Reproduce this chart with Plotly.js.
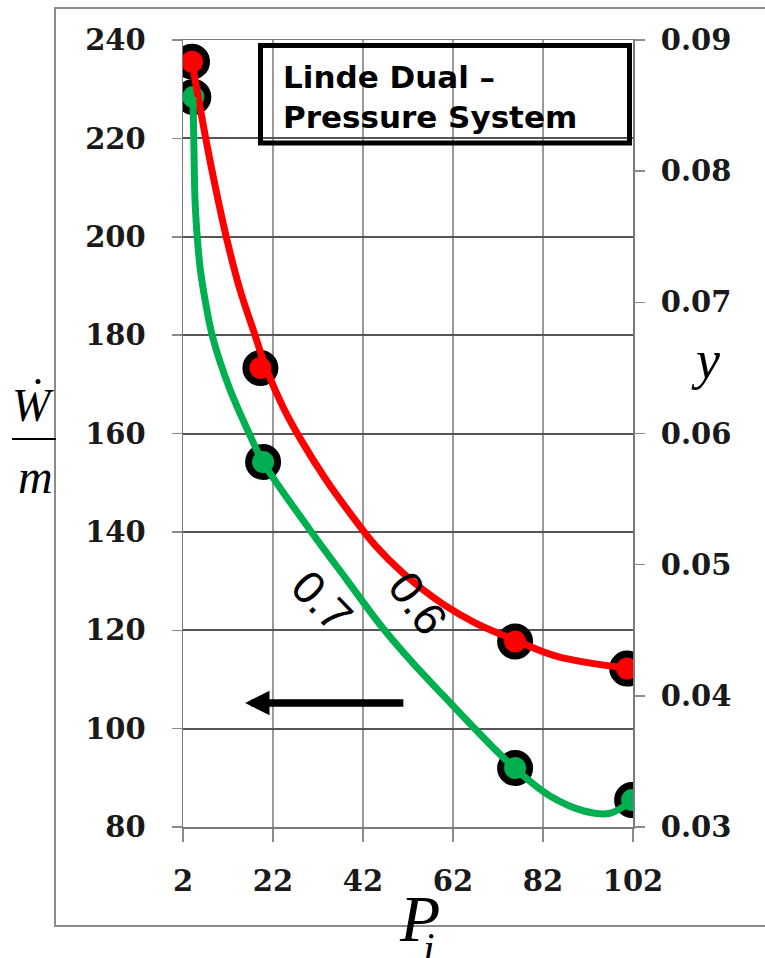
<!DOCTYPE html>
<html>
<head>
<meta charset="utf-8">
<script src="https://cdn.plot.ly/plotly-3.0.1.min.js"></script>
<style>html,body{margin:0;padding:0;background:#fff;}#chart{width:765px;height:958px;}</style>
</head>
<body>
<div id="chart"></div>
<script>
// ---- data ----
const xTickVals = [2, 22, 42, 62, 82, 102];
const yTickVals = [80, 100, 120, 140, 160, 180, 200, 220, 240];
const y2TickVals = [0.03, 0.04, 0.05, 0.06, 0.07, 0.08, 0.09];
const y2TickText = ['0.03', '0.04', '0.05', '0.06', '0.07', '0.08', '0.09'];

// measured points (markers)
const redPtsX = [4.0, 19.2, 75.8, 100.7];
const redPtsY = [235.6, 173.3, 117.7, 112.2];
const greenPtsX = [4.3, 19.8, 75.8, 101.8];
const greenPtsY = [228.4, 154.2, 92.0, 85.5];

// fitted curves
const redCurveX = [4.00, 7.11, 9.33, 11.78, 14.67, 18.00, 20.44, 24.22, 28.22, 33.56, 39.11, 44.67, 50.89, 59.78, 67.11, 75.78, 85.11, 100.67];
const redCurveY = [235.5, 219.7, 209.5, 199.3, 189.2, 180.0, 173.3, 165.4, 158.7, 150.9, 143.8, 137.3, 131.6, 125.3, 121.4, 118.0, 114.7, 112.3];
const greenCurveX = [4.22, 4.44, 4.67, 5.22, 5.84, 6.69, 8.56, 12.33, 16.56, 19.78, 30.22, 38.44, 46.44, 53.11, 59.78, 67.56, 75.78, 83.56, 91.33, 96.89, 101.78];
const greenCurveY = [228.4, 217.6, 207.4, 199.3, 193.4, 188.3, 179.7, 169.2, 160.3, 154.2, 140.4, 130.2, 120.4, 113.3, 106.8, 99.3, 91.9, 86.3, 83.2, 82.8, 85.4];

// curve labels
const curveLabels = ['0.7', '0.6'];
const curveLabelX = [32.9, 54.2];
const curveLabelY = [125.9, 125.5];

// arrow (head and tail)
const arrowHead = [15.8, 105.2];
const arrowTail = [51.3, 105.2];

const titleText = 'Linde Dual –<br>Pressure System';

// ---- layout helpers (pixel -> paper) ----
const PL = 183, PR = 633, PT = 40, PB = 827;
const px = p => (p - PL) / (PR - PL);
const py = p => (PB - p) / (PB - PT);

const RED = '#ff0000', GREEN = '#00b050';

const traces = [
  {x: redPtsX, y: redPtsY, mode: 'markers', type: 'scatter',
   marker: {size: 29, color: RED, line: {color: '#000', width: 7}}, hoverinfo: 'skip'},
  {x: greenPtsX, y: greenPtsY, mode: 'markers', type: 'scatter',
   marker: {size: 29, color: GREEN, line: {color: '#000', width: 7}}, hoverinfo: 'skip'},
  {x: redCurveX, y: redCurveY, mode: 'lines', type: 'scatter',
   line: {color: RED, width: 7, shape: 'spline', smoothing: 1}},
  {x: greenCurveX, y: greenCurveY, mode: 'lines', type: 'scatter',
   line: {color: GREEN, width: 7, shape: 'spline', smoothing: 1}},
  {x: [2], y: [0.05], yaxis: 'y2', mode: 'markers', marker: {opacity: 0}, hoverinfo: 'skip'}
];

const tickFont = {family: 'DejaVu Serif', size: 29, color: '#1a1a1a', weight: 'bold'};
const italic = {family: 'Liberation Serif', style: 'italic', color: '#000'};

function note(x, y, text, font, extra) {
  return Object.assign({x: px(x), y: py(y), xref: 'paper', yref: 'paper', text: text, showarrow: false,
    xanchor: 'center', yanchor: 'middle', font: font}, extra || {});
}

const annotations = [];
const labelAngles = [46, 54];
for (let i = 0; i < curveLabels.length; i++) {
  annotations.push({x: curveLabelX[i], y: curveLabelY[i], xref: 'x', yref: 'y', text: curveLabels[i],
    showarrow: false, xanchor: 'center', yanchor: 'middle', textangle: labelAngles[i],
    font: {family: 'Liberation Sans', size: 46, color: '#000'}});
}
annotations.push({x: arrowHead[0], y: arrowHead[1], ax: arrowTail[0], ay: arrowTail[1],
  xref: 'x', yref: 'y', axref: 'x', ayref: 'y', text: '', showarrow: true,
  arrowhead: 2, arrowwidth: 7.5, arrowsize: 0.65, arrowcolor: '#000', standoff: 0});
annotations.push(note(281, 97, titleText, {family: 'DejaVu Sans', size: 31, color: '#000', weight: 'bold'},
  {xanchor: 'left', align: 'left'}));
// axis titles
annotations.push(note(33, 405, 'W', Object.assign({size: 46}, italic)));
annotations.push(note(35, 476, 'm', Object.assign({size: 48}, italic)));
annotations.push(note(705, 360, 'y', Object.assign({size: 54}, italic)));
annotations.push(note(419, 918, 'P', Object.assign({size: 66}, italic)));
annotations.push(note(429, 948, 'i', Object.assign({size: 42}, italic)));

const shapes = [
  // outer frame
  {type: 'rect', xref: 'paper', yref: 'paper', x0: px(55), x1: px(775), y0: py(926), y1: py(8),
   line: {color: '#8c8c8c', width: 2}},
  // title box
  {type: 'rect', xref: 'paper', yref: 'paper', x0: px(260.5), x1: px(629.5), y0: py(143), y1: py(45.5),
   line: {color: '#000', width: 5}},
  // fraction bar
  {type: 'line', xref: 'paper', yref: 'paper', x0: px(12), x1: px(56), y0: py(439), y1: py(439),
   line: {color: '#000', width: 2}},
  // dot over W
  {type: 'circle', xref: 'paper', yref: 'paper', x0: px(35.5), x1: px(40.5), y0: py(384), y1: py(379),
   fillcolor: '#000', line: {width: 0}}
];

const layout = {
  width: 765, height: 958,
  margin: {l: PL, r: 765 - PR, t: PT, b: 958 - PB, pad: 0},
  paper_bgcolor: '#fff', plot_bgcolor: '#fff',
  showlegend: false,
  xaxis: {range: [2, 102], tickvals: xTickVals, ticktext: xTickVals.map(String),
    showgrid: true, gridcolor: '#9a9a9a', gridwidth: 1.5, zeroline: false,
    showline: true, mirror: true, linecolor: '#7a7a7a', linewidth: 1.5,
    ticks: 'outside', ticklen: 13, tickwidth: 1.5, tickcolor: '#8a8a8a',
    ticklabelstandoff: 15, tickfont: tickFont},
  yaxis: {range: [80, 240], tickvals: yTickVals, ticktext: yTickVals.map(String),
    showgrid: true, gridcolor: '#555', gridwidth: 2, zeroline: false,
    showline: true, mirror: true, linecolor: '#7a7a7a', linewidth: 1.5,
    ticks: 'outside', ticklen: 10, tickwidth: 1.5, tickcolor: '#8a8a8a',
    ticklabelstandoff: 20, tickfont: tickFont},
  yaxis2: {overlaying: 'y', side: 'right', range: [0.03, 0.09], tickvals: y2TickVals, ticktext: y2TickText,
    showgrid: false, zeroline: false, showline: false,
    ticks: 'outside', ticklen: 11, tickwidth: 1.5, tickcolor: '#8a8a8a',
    ticklabelstandoff: 10, tickfont: tickFont},
  annotations: annotations,
  shapes: shapes
};

Plotly.newPlot('chart', traces, layout, {displayModeBar: false, staticPlot: true});
</script>
</body>
</html>
